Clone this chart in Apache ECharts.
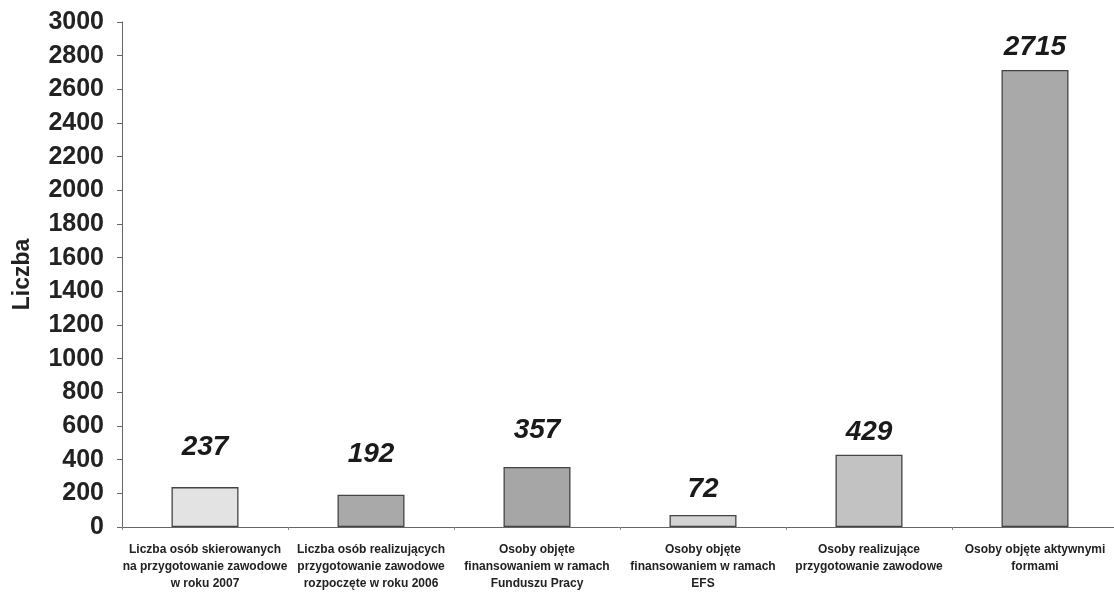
<!DOCTYPE html>
<html>
<head>
<meta charset="utf-8">
<script src="https://cdn.jsdelivr.net/npm/echarts@6/dist/echarts.min.js"></script>
<style>html,body{margin:0;padding:0;background:#fff}#c{width:1114px;height:596px}</style>
</head>
<body>
<div id="c"></div>
<script>
var categories = [
  "Liczba osób skierowanych\nna przygotowanie zawodowe\nw roku 2007",
  "Liczba osób realizujących\nprzygotowanie zawodowe\nrozpoczęte w roku 2006",
  "Osoby objęte\nfinansowaniem w ramach\nFunduszu Pracy",
  "Osoby objęte\nfinansowaniem w ramach\nEFS",
  "Osoby realizujące\nprzygotowanie zawodowe",
  "Osoby objęte aktywnymi\nformami"
];
var values = [237, 192, 357, 72, 429, 2715];
var yTicks = [0, 200, 400, 600, 800, 1000, 1200, 1400, 1600, 1800, 2000, 2200, 2400, 2600, 2800, 3000];
var axisTitle = "Liczba";

var barColors = ['#e3e3e3', '#a9a9a9', '#a6a6a6', '#d2d2d2', '#c2c2c2', '#a9a9a9'];
var labelGaps = [26, 26, 23, 12, 9, 9];
var FONT = 'Arial, "Liberation Sans", sans-serif';

var chart = echarts.init(document.getElementById('c'));
chart.setOption({
  animation: false,
  grid: { left: 122, top: 22, width: 996, height: 505, containLabel: false, outerBoundsMode: 'none' },
  xAxis: {
    type: 'category',
    data: categories,
    axisLine: { lineStyle: { color: '#666', width: 1 } },
    axisTick: { show: true, length: 3, lineStyle: { color: '#888' } },
    axisLabel: {
      interval: 0, margin: 14, fontFamily: FONT,
      fontWeight: 'bold', fontSize: 12, color: '#222', lineHeight: 17
    }
  },
  yAxis: {
    type: 'value', min: yTicks[0], max: yTicks[yTicks.length - 1], interval: yTicks[1] - yTicks[0],
    name: axisTitle, nameLocation: 'middle', nameRotate: 90, nameGap: 88,
    nameTextStyle: { fontFamily: FONT, fontWeight: 'bold', fontSize: 23, color: '#222' },
    axisLine: { show: true, lineStyle: { color: '#666' } },
    axisTick: { show: true, length: 5, lineStyle: { color: '#666' } },
    splitLine: { show: false },
    axisLabel: {
      margin: 18, fontFamily: FONT, fontWeight: 'bold', fontSize: 25, color: '#222',
      formatter: function (v) { return String(v); }
    }
  },
  series: [{
    type: 'bar',
    barWidth: 67,
    data: values.map(function (v, i) {
      return {
        value: v,
        itemStyle: { color: barColors[i], borderColor: '#444', borderWidth: 1.3 },
        label: { distance: labelGaps[i] }
      };
    }),
    label: {
      show: true, position: 'top',
      fontFamily: FONT, fontWeight: 900, fontStyle: 'italic',
      fontSize: 28, color: '#1a1a1a'
    }
  }]
});
</script>
</body>
</html>
